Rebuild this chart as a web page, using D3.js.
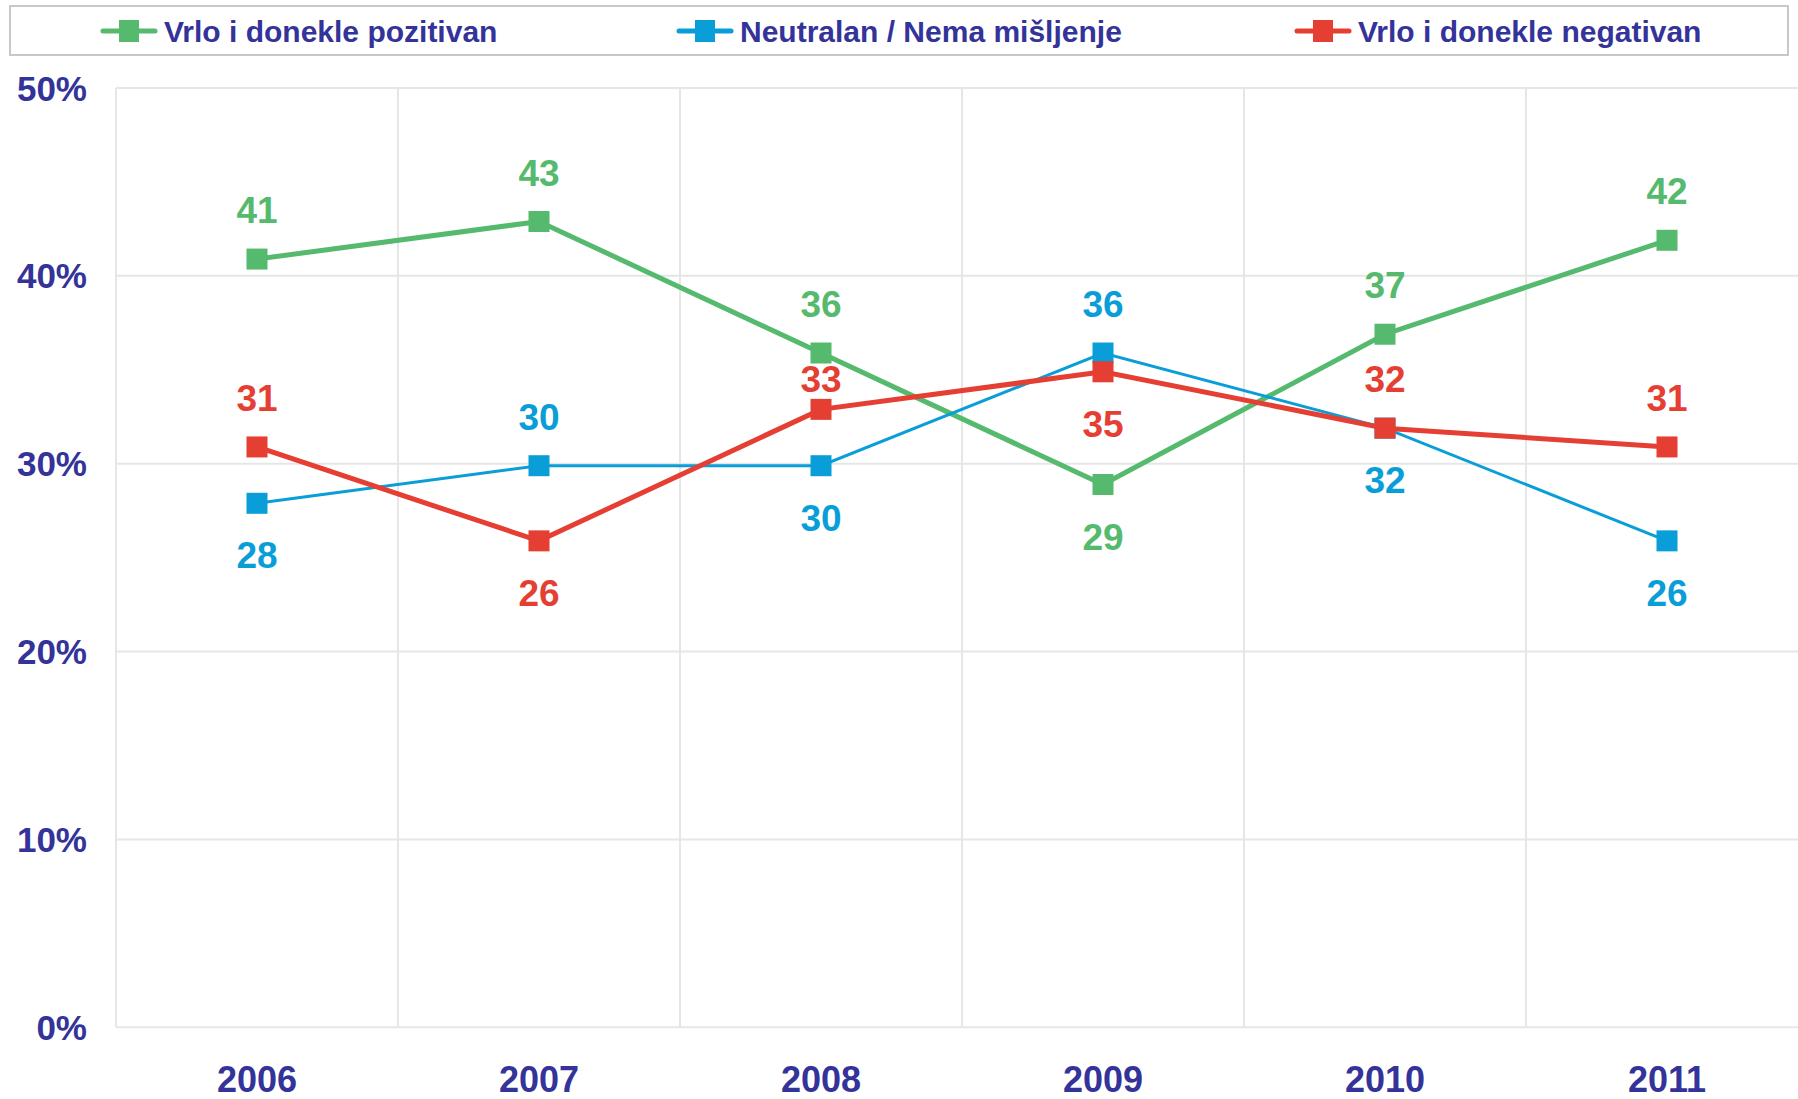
<!DOCTYPE html>
<html>
<head>
<meta charset="utf-8">
<script src="https://cdn.jsdelivr.net/npm/d3@7"></script>
<style>
  html, body { margin: 0; padding: 0; background: #fff; }
  svg { display: block; font-family: "Liberation Sans", Arial, sans-serif; font-weight: bold; }
</style>
</head>
<body>
<svg id="chart" width="1798" height="1099"></svg>
<script>
const years = ["2006", "2007", "2008", "2009", "2010", "2011"];
const seriesNames = ["Vrlo i donekle pozitivan", "Neutralan / Nema mišljenje", "Vrlo i donekle negativan"];
const positiveValues = [41, 43, 36, 29, 37, 42];
const neutralValues = [28, 30, 30, 36, 32, 26];
const negativeValues = [31, 26, 33, 35, 32, 31];
// label placement relative to the marker
const positiveLabelPos = ["above", "above", "above", "below", "above", "above"];
const neutralLabelPos = ["below", "above", "below", "above", "below", "below"];
const negativeLabelPos = ["above", "below", "near", "below", "above", "above"];
const yTicks = [0, 10, 20, 30, 40, 50];
const yTickLabels = ["0%", "10%", "20%", "30%", "40%", "50%"];

const colors = ["#55BA6E", "#0A9ED8", "#E53F33"];
const lineWidths = [5, 3, 5];
const textColor = "#333399";
const gridColor = "#E6E6E6";

const series = [
  { name: seriesNames[0], values: positiveValues, pos: positiveLabelPos, color: colors[0], w: lineWidths[0] },
  { name: seriesNames[1], values: neutralValues, pos: neutralLabelPos, color: colors[1], w: lineWidths[1] },
  { name: seriesNames[2], values: negativeValues, pos: negativeLabelPos, color: colors[2], w: lineWidths[2] }
];

const svg = d3.select("#chart");
const plotLeft = 116, plotRight = 1808, plotTop = 88, plotBottom = 1027.3;

const x = d3.scaleBand().domain(years).range([plotLeft, plotRight]);
const y = d3.scaleLinear().domain([0, 50]).range([plotBottom, plotTop]);

// horizontal gridlines
svg.append("g").selectAll("line").data(yTicks).join("line")
  .attr("x1", plotLeft).attr("x2", plotRight)
  .attr("y1", d => y(d)).attr("y2", d => y(d))
  .attr("stroke", gridColor).attr("stroke-width", 2);

// vertical gridlines (band boundaries)
const bounds = years.map(d => x(d));
svg.append("g").selectAll("line").data(bounds).join("line")
  .attr("x1", d => d).attr("x2", d => d)
  .attr("y1", plotTop).attr("y2", plotBottom)
  .attr("stroke", gridColor).attr("stroke-width", 2);

// y tick labels
svg.append("g").selectAll("text").data(yTicks).join("text")
  .attr("x", 87).attr("y", d => y(d)).attr("dy", "0.36em")
  .attr("text-anchor", "end")
  .attr("font-size", 35).attr("fill", textColor)
  .text((d, i) => yTickLabels[i]);

// x labels
svg.append("g").selectAll("text").data(years).join("text")
  .attr("x", d => x(d) + x.bandwidth() / 2).attr("y", 1092)
  .attr("text-anchor", "middle")
  .attr("font-size", 36).attr("fill", textColor)
  .text(d => d);

const line = d3.line()
  .x((d, i) => x(years[i]) + x.bandwidth() / 2)
  .y(d => y(d));

const dataLayer = svg.append("g").attr("transform", "translate(0,2)");
const ms = 21;
series.forEach(s => {
  const g = dataLayer.append("g");
  g.append("path").datum(s.values)
    .attr("d", line).attr("fill", "none")
    .attr("stroke", s.color).attr("stroke-width", s.w);
  g.selectAll("rect").data(s.values).join("rect")
    .attr("x", (d, i) => x(years[i]) + x.bandwidth() / 2 - ms / 2)
    .attr("y", d => y(d) - ms / 2)
    .attr("width", ms).attr("height", ms)
    .attr("fill", s.color);
});
const labelOffset = { above: -36, below: 65, near: -17 };
series.forEach(s => {
  dataLayer.append("g").selectAll("text").data(s.values).join("text")
    .attr("x", (d, i) => x(years[i]) + x.bandwidth() / 2)
    .attr("y", (d, i) => y(d) + labelOffset[s.pos[i]])
    .attr("text-anchor", "middle")
    .attr("font-size", 37).attr("fill", s.color)
    .text(d => d);
});

// legend
svg.append("rect").attr("x", 10).attr("y", 6).attr("width", 1778).attr("height", 49)
  .attr("fill", "#fff").attr("stroke", "#C8C8C8").attr("stroke-width", 2);
const legendX = [103, 679, 1297];
series.forEach((s, i) => {
  const g = svg.append("g").attr("transform", `translate(${legendX[i]},31)`);
  g.append("line").attr("x1", 0).attr("x2", 52).attr("y1", 0).attr("y2", 0)
    .attr("stroke", s.color).attr("stroke-width", 5).attr("stroke-linecap", "round");
  g.append("rect").attr("x", 26 - 10).attr("y", -11).attr("width", 20).attr("height", 22)
    .attr("fill", s.color);
  g.append("text").attr("x", 61).attr("y", 0).attr("dy", "0.36em")
    .attr("font-size", 30).attr("fill", textColor).text(s.name);
});
</script>
</body>
</html>
